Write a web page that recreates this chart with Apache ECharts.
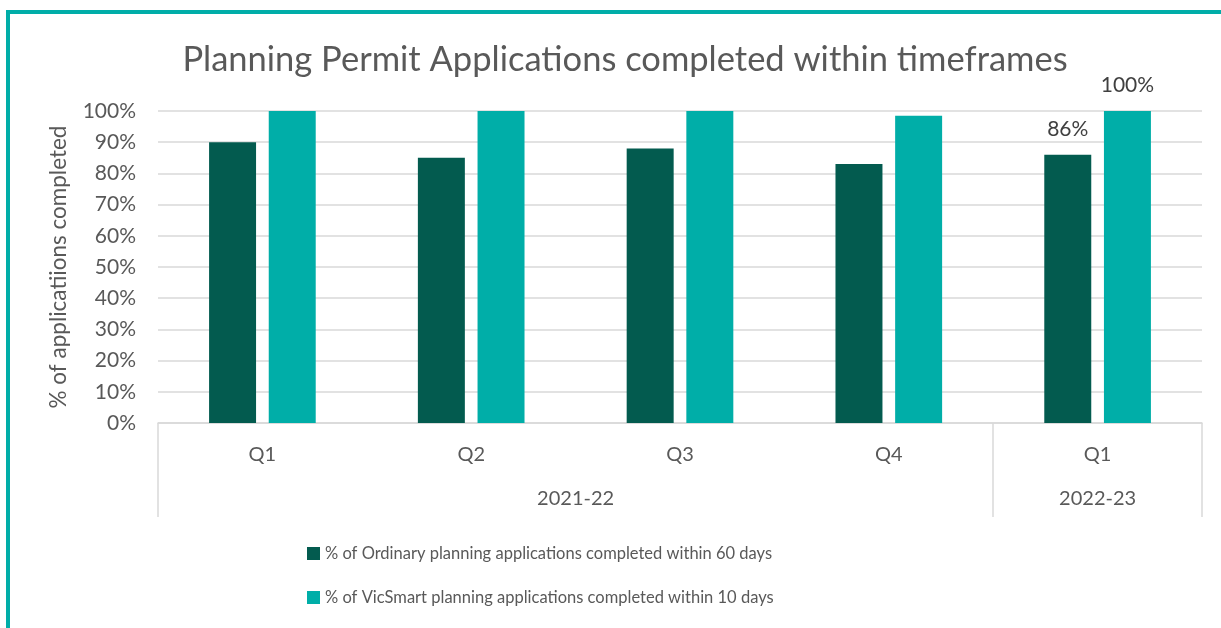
<!DOCTYPE html>
<html>
<head>
<meta charset="utf-8">
<script src="https://cdn.jsdelivr.net/npm/echarts@6/dist/echarts.min.js"></script>
<style>
  html, body { margin: 0; padding: 0; background: #fff; }
  #chart { width: 1221px; height: 628px; }
</style>
</head>
<body>
<div id="chart"></div>
<script>
// ---------------- data ----------------
const quarters = ['Q1', 'Q2', 'Q3', 'Q4', 'Q1'];
const yearGroups = ['2021-22', '2022-23'];
const groupSpans = [4, 1];
const ordinary = [90, 85, 88, 83, 86];
const vicSmart = [100, 100, 100, 98.5, 100];
const seriesNames = [
  '% of Ordinary planning applications completed within 60 days',
  '% of VicSmart planning applications completed within 10 days'
];

const FONT = 'Lato, "Noto Sans", sans-serif';
const TEXT = '#595959';
const GRID_LINE = '#d9d9d9';

// group boundaries and centres on the 0..n axis
const bounds = [0];
groupSpans.forEach(s => bounds.push(bounds[bounds.length - 1] + s));
const centres = groupSpans.map((s, i) => bounds[i] + s / 2);
const lastIdx = quarters.length - 1;

const chart = echarts.init(document.getElementById('chart'));

const labelOnLast = {
  show: true,
  position: 'top',
  distance: 15,
  fontFamily: FONT,
  fontSize: 21,
  color: '#404040',
  formatter: p => p.dataIndex === lastIdx ? p.value + '%' : ''
};

chart.setOption({
  animation: false,
  title: {
    text: 'Planning Permit Applications completed within timeframes',
    left: 620,
    textAlign: 'center',
    top: 37,
    textStyle: { fontFamily: FONT, fontSize: 34.5, fontWeight: 'normal', color: TEXT }
  },
  graphic: [{
    type: 'rect',
    shape: { x: 8, y: 12, width: 1400, height: 800 },
    style: { fill: 'none', stroke: '#00ada8', lineWidth: 4 },
    silent: true
  }],
  legend: {
    orient: 'vertical',
    left: 302,
    top: 540,
    itemGap: 27,
    itemWidth: 13,
    itemHeight: 13,
    icon: 'rect',
    textStyle: { fontFamily: FONT, fontSize: 16.5, color: TEXT }
  },
  grid: { left: 158, right: 19, top: 111, bottom: 205 },
  xAxis: [{
    type: 'category',
    data: quarters,
    axisLine: { lineStyle: { color: GRID_LINE, width: 1.5 } },
    axisTick: { show: false },
    axisLabel: { margin: 22, fontFamily: FONT, fontSize: 20, color: TEXT }
  }, {
    type: 'value',
    min: 0,
    max: quarters.length,
    position: 'bottom',
    axisLine: { show: false },
    splitLine: { show: false },
    axisTick: {
      show: true,
      customValues: bounds,
      length: 94,
      lineStyle: { color: GRID_LINE, width: 1.5 }
    },
    axisLabel: {
      customValues: centres,
      margin: 66,
      fontFamily: FONT,
      fontSize: 20,
      color: TEXT,
      formatter: v => yearGroups[centres.indexOf(v)]
    }
  }],
  yAxis: {
    type: 'value',
    min: 0,
    max: 100,
    interval: 10,
    name: '% of applicatiions completed',
    nameLocation: 'middle',
    nameGap: 88,
    nameTextStyle: { fontFamily: FONT, fontSize: 22.5, color: TEXT },
    axisLine: { show: false },
    axisTick: { show: false },
    axisLabel: { formatter: '{value}%', margin: 22, fontFamily: FONT, fontSize: 21, color: TEXT },
    splitLine: { lineStyle: { color: GRID_LINE, width: 1.5 } }
  },
  series: [{
    name: seriesNames[0],
    type: 'bar',
    data: ordinary,
    barWidth: '22.5%',
    barGap: '27%',
    itemStyle: { color: '#035b4f' },
    label: labelOnLast
  }, {
    name: seriesNames[1],
    type: 'bar',
    data: vicSmart,
    barWidth: '22.5%',
    barGap: '27%',
    itemStyle: { color: '#00aea8' },
    label: labelOnLast
  }]
});
</script>
</body>
</html>
